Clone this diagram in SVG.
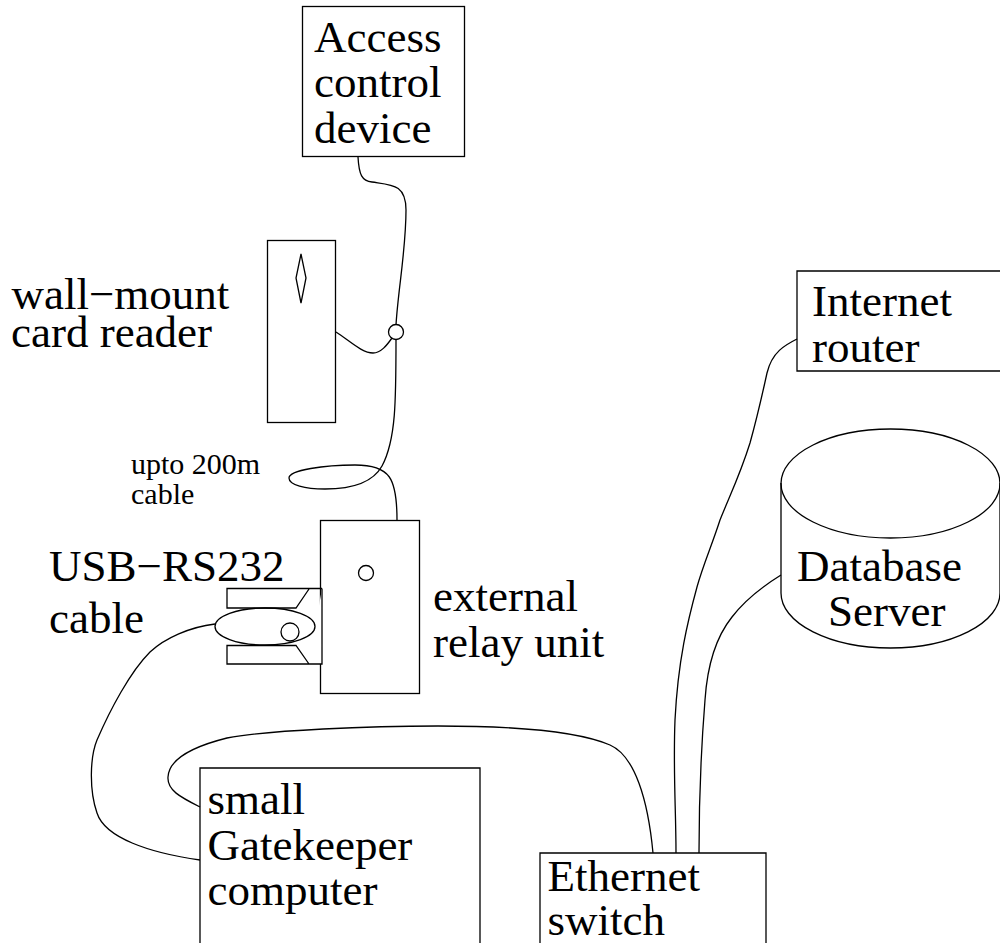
<svg xmlns="http://www.w3.org/2000/svg" width="1000" height="943" viewBox="0 0 1000 943">
<style>
.s{fill:none;stroke:#000;stroke-width:1.3}
.w{fill:#fff;stroke:#000;stroke-width:1.3}
text{font-family:"Liberation Serif","Times New Roman",serif;font-size:45px;fill:#000}
.m{font-size:30px}
</style>
<rect width="1000" height="943" fill="#fff"/>
<g id="connectors">
<path class="s" d="M358 157C359 175 362 181 372 182C392 185 406 184 406 210C406 250 398 290 396 325"/>
<path class="s" d="M336 332C350 341 362 353 373 353C381 353 387 345 392 338"/>
<path class="s" d="M396 339C396 400 396 440 382 466C372 484 350 489 325 489C305 489 289 485 289 478C289 470 325 465 355 465C390 465 397 478 397 520"/>
<path class="s" d="M215 624C190 627 165 638 150 652C130 672 110 710 97 740C90 757 89 790 97 813C105 838 150 853 200 860"/>
<path class="s" d="M200 807C180 797 167 790 168 777C169 758 195 746 227 738C270 730 370 726 438 726C500 726 575 730 610 745C635 756 648 800 653 853"/>
<path class="s" d="M797 339C785 345 772 352 767 373C760 405 755 425 750 443C740 475 730 495 720 520C712 545 703 565 697 587C688 620 678 660 675 720C673 770 676 810 676 853"/>
<path class="s" d="M781 575C760 588 745 600 732 617C720 632 708 655 705 700C701 750 699 800 699 853"/>
</g>
<g id="access-control"><rect class="s" x="302.500" y="6.500" width="162" height="150"/><text x="314" y="52">Access</text><text x="314" y="97">control</text><text x="314" y="143">device</text></g>
<g id="card-reader"><rect class="s" x="267.500" y="240.500" width="68" height="182"/><path class="s" d="M301 254L306 278L301 303L296 278Z"/><text x="11.500" y="309">wall−mount</text><text x="11" y="347">card reader</text></g>
<g id="junction"><circle class="w" cx="396" cy="332" r="7.500"/></g>
<g id="cable-label"><text class="m" x="131" y="474">upto 200m</text><text class="m" x="131" y="504">cable</text></g>
<g id="relay"><rect class="w" x="320.500" y="520.500" width="99" height="173"/><circle class="s" cx="366" cy="573" r="7.500"/><text x="433" y="611">external</text><text x="433" y="657">relay unit</text></g>
<g id="usb"><path class="w" d="M322 588.500H227V608H296L309 589M322 588.500V664H227V645.500H296L309 664"/><text x="49" y="581">USB−RS232</text><text x="49" y="633">cable</text><ellipse class="s" cx="265" cy="626.500" rx="50" ry="18.500"/><circle class="s" cx="290" cy="632" r="9"/></g>
<g id="computer"><path class="s" d="M200 943V768H480V943"/><text x="207.500" y="814">small</text><text x="207.500" y="860">Gatekeeper</text><text x="207.500" y="905">computer</text></g>
<g id="switch"><path class="s" d="M540 943V853H766V943"/><text x="547.500" y="891">Ethernet</text><text x="547.500" y="935">switch</text></g>
<g id="router"><path class="s" d="M1000 271H797V371H1000"/><text x="812" y="316">Internet</text><text x="812" y="362">router</text></g>
<g id="database"><path class="s" d="M781 483V593A109.500 55 0 0 0 1000 593V483"/><ellipse class="s" cx="890.500" cy="483.500" rx="109.500" ry="54.500"/><text x="797" y="581">Database</text><text x="828" y="626">Server</text></g>
</svg>
